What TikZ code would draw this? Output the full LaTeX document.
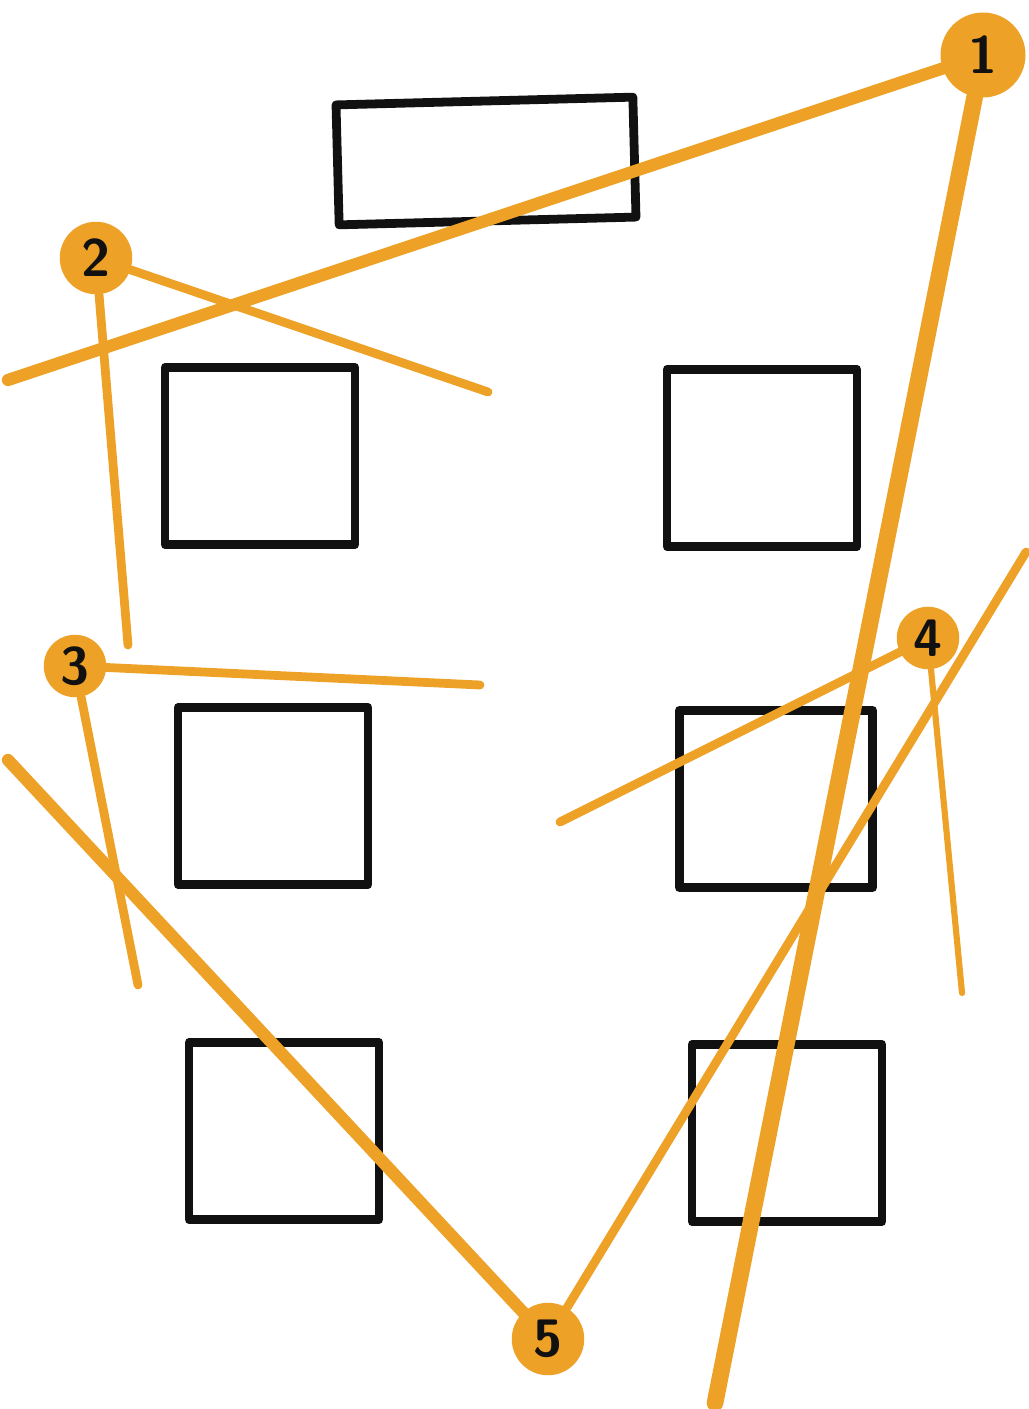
\documentclass[tikz,border=0pt]{standalone}
\usepackage{xcolor}
\usepackage{tikz}
\usetikzlibrary{positioning}
\definecolor{skOrange}{HTML}{EDA126}
\definecolor{skInk}{HTML}{111111}
\tikzset{
  sk sketch/.style={line cap=round, line join=round},
  sk box/.style={draw=skInk, line width=5pt, inner sep=0pt,
    minimum width=3.8cm, minimum height=3.55cm},
  sk spot/.style={circle, fill=skOrange, inner sep=0pt, text=skInk,
    font=\sffamily\bfseries\fontsize{30}{30}\selectfont},
  sk line/.style={draw=skOrange, line width=5pt},
  sk thin/.style={sk line, line width=3.5pt},
  sk thick/.style={sk line, line width=7pt},
  sk heavy/.style={sk line, line width=9.5pt}
}
\begin{document}
\begin{tikzpicture}[sk sketch,x=0.02cm,y=-0.02cm]
\useasboundingbox (0,0) rectangle (1028,1409);
% tables
\node[sk box,minimum width=5.94cm,minimum height=2.4cm,rotate=1.5] (desk) at (486,161) {};
\node[sk box] (t1) at (260,456) {};
\node[sk box] (t2) at (762,458) {};
\node[sk box] (t3) at (273,796) {};
\node[sk box,minimum width=3.86cm] (t4) at (776,799) {};
\node[sk box] (t5) at (284,1131) {};
\node[sk box] (t6) at (787,1133) {};
% numbered spots
\node[sk spot,minimum size=1.7cm] (s1) at (983,55) {1};
\node[sk spot,minimum size=1.45cm] (s2) at (96,258) {2};
\node[sk spot,minimum size=1.25cm] (s3) at (75,666) {3};
\node[sk spot,minimum size=1.25cm] (s4) at (928,638) {4};
\node[sk spot,minimum size=1.45cm] (s5) at (548,1339) {5};
% line ends
\coordinate (e1a) at (8,380);
\coordinate (e1b) at (715,1403);
\coordinate (e2a) at (488,392);
\coordinate (e2b) at (128,645);
\coordinate (e3a) at (480,685);
\coordinate (e3b) at (138,985);
\coordinate (e4a) at (560,822);
\coordinate (e4b) at (962,993);
\coordinate (e5a) at (8,760);
\coordinate (e5b) at (1026,552);
% sight lines
\draw[sk thick] (s1) -- (e1a);
\draw[sk heavy] (s1) -- (e1b);
\draw[sk line] (s2) -- (e2a);
\draw[sk line] (s2) -- (e2b);
\draw[sk line] (s3) -- (e3a);
\draw[sk line] (s3) -- (e3b);
\draw[sk line] (s4) -- (e4a);
\draw[sk thin] (s4) -- (e4b);
\draw[sk thick] (s5) -- (e5a);
\draw[sk line] (s5) -- (e5b);
\end{tikzpicture}
\end{document}
